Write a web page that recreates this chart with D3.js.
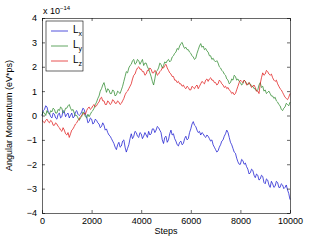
<!DOCTYPE html>
<html>
<head>
<meta charset="utf-8">
<script src="https://d3js.org/d3.v7.min.js"></script>
<style>
  body { margin: 0; background: #fff; }
  svg { display: block; font-family: "Liberation Sans", Arial, sans-serif; }
  .axis text { font-size: 9px; fill: #000; }
  .axis path, .axis line { stroke: #000; stroke-width: 0.6; }
</style>
</head>
<body>
<script>
// steps 0..10000, every 50
var steps = d3.range(0, 10001, 50);

// values in units of 1e-14 eV*ps, one row per 1000 steps
var lx = [
  0.0, 0.2, 0.25, 0.4, 0.35, 0.15, 0.1, -0.05, -0.1, 0.1, 0.05, -0.1, -0.15, 0.05, 0.1, -0.1, -0.05, 0.2, 0.15, -0.05,
  0.05, 0.1, -0.1, 0.0, 0.1, -0.1, -0.05, 0.15, 0.2, 0.05, 0.0, 0.05, 0.15, 0.3, 0.25, 0.05, -0.05, -0.3, -0.25, -0.1,
  -0.15, -0.35, -0.3, -0.15, -0.2, -0.3, -0.35, -0.5, -0.45, -0.3, -0.4, -0.6, -0.55, -0.7, -0.8, -0.85, -0.95, -1.05, -1.15, -1.3,
  -1.4, -1.2, -1.1, -1.3, -1.25, -1.05, -1.0, -1.3, -1.5, -1.35, -1.2, -0.95, -0.75, -0.95, -0.85, -0.65, -0.7, -0.85, -0.9, -0.7,
  -0.75, -0.95, -0.85, -0.7, -0.8, -0.9, -0.65, -0.8, -0.75, -0.55, -0.55, -0.7, -0.6, -0.45, -0.5, -0.6, -0.7, -1.0, -1.15, -0.9,
  -0.85, -1.1, -1.0, -0.75, -0.6, -0.8, -0.75, -0.95, -1.05, -1.2, -1.25, -1.1, -1.05, -1.2, -1.15, -0.95, -0.85, -1.0, -0.95, -0.7,
  -0.55, -0.35, -0.25, -0.4, -0.45, -0.6, -0.7, -0.65, -0.8, -0.7, -0.75, -0.85, -0.9, -0.8, -0.85, -0.95, -1.05, -1.0, -1.2, -1.3,
  -1.4, -1.5, -1.45, -1.3, -1.2, -1.05, -1.0, -0.85, -0.75, -0.6, -0.7, -0.9, -1.1, -1.2, -1.35, -1.5, -1.55, -1.75, -1.9, -2.0,
  -2.0, -1.8, -1.85, -2.0, -1.95, -2.1, -2.2, -2.4, -2.35, -2.2, -2.25, -2.45, -2.55, -2.4, -2.45, -2.65, -2.6, -2.45, -2.5, -2.75,
  -2.8, -2.6, -2.65, -2.85, -2.95, -2.7, -2.8, -2.95, -2.9, -2.7, -2.75, -2.95, -2.95, -2.8, -2.85, -3.0, -2.95, -2.85, -3.05, -3.2,
  -3.45];

var ly = [
  0.0, 0.15, 0.1, 0.0, 0.2, 0.1, 0.05, 0.2, 0.15, 0.3, 0.25, 0.1, 0.1, 0.25, 0.2, 0.35, 0.3, 0.1, 0.15, 0.3,
  0.3, 0.4, 0.45, 0.3, 0.2, 0.25, 0.1, 0.0, 0.0, -0.1, -0.2, -0.1, -0.05, 0.15, 0.1, -0.05, -0.1, 0.05, -0.05, 0.05,
  0.15, 0.2, 0.3, 0.45, 0.55, 0.7, 0.8, 1.0, 1.1, 1.25, 1.35, 1.15, 0.95, 1.1, 1.05, 0.9, 0.9, 1.05, 1.0, 0.8,
  0.85, 1.0, 0.95, 0.9, 1.05, 1.2, 1.4, 1.6, 1.8, 1.75, 1.95, 2.05, 2.1, 2.25, 2.3, 2.1, 2.15, 2.3, 2.25, 2.1,
  2.2, 2.3, 2.05, 2.15, 2.15, 2.0, 1.9, 1.75, 1.6, 1.4, 1.25, 1.5, 1.8, 1.85, 1.95, 2.15, 2.1, 1.95, 2.05, 2.2,
  2.15, 2.25, 2.3, 2.2, 2.25, 2.4, 2.45, 2.55, 2.6, 2.75, 2.7, 2.85, 2.95, 3.0, 2.85, 2.75, 2.8, 2.7, 2.7, 2.6,
  2.55, 2.45, 2.4, 2.3, 2.35, 2.55, 2.7, 2.85, 2.95, 2.8, 2.85, 2.7, 2.75, 2.65, 2.6, 2.45, 2.45, 2.3, 2.35, 2.25,
  2.2, 2.25, 2.15, 2.0, 1.95, 1.85, 1.8, 1.7, 1.65, 1.5, 1.45, 1.3, 1.35, 1.5, 1.45, 1.65, 1.6, 1.45, 1.5, 1.4,
  1.35, 1.25, 1.3, 1.45, 1.4, 1.3, 1.25, 1.35, 1.3, 1.2, 1.2, 1.1, 1.1, 1.0, 1.05, 1.25, 1.35, 1.15, 1.2, 1.0,
  1.05, 0.9, 0.95, 1.0, 0.9, 0.8, 0.8, 0.7, 0.75, 0.6, 0.55, 0.45, 0.4, 0.25, 0.2, 0.3, 0.35, 0.5, 0.45, 0.4,
  0.55];

var lz = [
  -0.2, -0.25, -0.3, -0.2, -0.15, -0.25, -0.3, -0.2, -0.25, -0.4, -0.4, -0.3, -0.35, -0.45, -0.5, -0.6, -0.65, -0.5, -0.6, -0.75,
  -0.8, -0.7, -0.9, -0.75, -0.6, -0.55, -0.45, -0.35, -0.3, -0.2, -0.15, -0.05, 0.0, 0.05, 0.1, 0.05, 0.2, 0.3, 0.35, 0.25,
  0.3, 0.4, 0.45, 0.35, 0.4, 0.5, 0.55, 0.7, 0.75, 0.6, 0.6, 0.45, 0.45, 0.6, 0.55, 0.45, 0.5, 0.65, 0.6, 0.5,
  0.5, 0.6, 0.55, 0.45, 0.5, 0.6, 0.7, 0.85, 0.95, 1.0, 1.1, 1.2, 1.3, 1.5, 1.65, 1.7, 1.85, 1.95, 2.0, 1.9,
  1.9, 1.8, 1.8, 1.65, 1.7, 1.85, 1.85, 1.95, 1.9, 1.75, 1.75, 1.85, 1.8, 1.65, 1.7, 1.8, 1.85, 1.95, 1.95, 2.05,
  2.1, 1.95, 1.85, 1.75, 1.7, 1.6, 1.6, 1.45, 1.45, 1.35, 1.4, 1.3, 1.3, 1.2, 1.25, 1.15, 1.1, 1.2, 1.15, 1.05,
  1.05, 1.2, 1.15, 1.1, 1.2, 1.25, 1.1, 1.2, 1.3, 1.4, 1.35, 1.3, 1.45, 1.5, 1.4, 1.5, 1.55, 1.45, 1.45, 1.35,
  1.35, 1.25, 1.3, 1.45, 1.4, 1.3, 1.25, 1.15, 1.2, 1.1, 1.15, 1.05, 1.0, 0.9, 0.95, 0.85, 0.9, 1.05, 1.2, 1.35,
  1.45, 1.4, 1.35, 1.45, 1.4, 1.25, 1.3, 1.35, 1.25, 1.15, 1.2, 1.25, 1.15, 1.0, 1.0, 0.9, 1.3, 1.55, 1.75, 1.65,
  1.7, 1.85, 1.8, 1.7, 1.65, 1.7, 1.55, 1.45, 1.4, 1.45, 1.3, 1.2, 1.1, 1.05, 0.95, 0.85, 0.75, 0.7, 0.65, 0.75,
  0.9];

var xTicks = [0, 2000, 4000, 6000, 8000, 10000];
var yTicks = [-4, -3, -2, -1, 0, 1, 2, 3, 4];

var series = [
  {name: "x", values: lx, color: "#1a1ad0"},
  {name: "y", values: ly, color: "#2e8a2e"},
  {name: "z", values: lz, color: "#e01a1a"}
];

var W = 320, H = 240;
var margin = {top: 18, right: 30, bottom: 27, left: 42};
var width = W - margin.left - margin.right;
var height = H - margin.top - margin.bottom;

var svg = d3.select("body").append("svg")
  .attr("width", W).attr("height", H);

var g = svg.append("g")
  .attr("transform", `translate(${margin.left},${margin.top})`);

var x = d3.scaleLinear().domain([0, 10000]).range([0, width]);
var y = d3.scaleLinear().domain([-4, 4]).range([height, 0]);

// lines
var line = d3.line()
  .x((d, i) => x(steps[i]))
  .y(d => y(d));

series.forEach(function(s) {
  g.append("path")
    .datum(s.values)
    .attr("fill", "none")
    .attr("stroke", s.color)
    .attr("stroke-width", 0.75)
    .attr("d", line);
});

// axes with inward ticks (matlab style box)
g.append("g").attr("class", "axis")
  .attr("transform", `translate(0,${height})`)
  .call(d3.axisBottom(x).tickValues(xTicks).tickSizeInner(-3).tickSizeOuter(0).tickPadding(5)
    .tickFormat(d3.format("d")));
g.append("g").attr("class", "axis")
  .call(d3.axisTop(x).tickValues(xTicks).tickSizeInner(-3).tickSizeOuter(0).tickFormat(""));
g.append("g").attr("class", "axis")
  .call(d3.axisLeft(y).tickValues(yTicks).tickSizeInner(-3).tickSizeOuter(0).tickPadding(5)
    .tickFormat(d => d < 0 ? "\u2212" + Math.abs(d) : d));
g.append("g").attr("class", "axis")
  .attr("transform", `translate(${width},0)`)
  .call(d3.axisRight(y).tickValues(yTicks).tickSizeInner(-3).tickSizeOuter(0).tickFormat(""));

// exponent label
var ex = svg.append("text")
  .attr("x", margin.left + 1).attr("y", 14)
  .style("font-size", "9px");
ex.append("tspan").text("x 10");
ex.append("tspan").attr("dy", -4).style("font-size", "6px").text("\u221214");

// axis titles
svg.append("text")
  .attr("x", margin.left + width / 2).attr("y", 234)
  .attr("text-anchor", "middle")
  .style("font-size", "9px")
  .text("Steps");

svg.append("text")
  .attr("transform", `translate(12,${margin.top + height / 2}) rotate(-90)`)
  .attr("text-anchor", "middle")
  .style("font-size", "9px")
  .text("Angular Momentum (eV*ps)");

// legend
var lg = g.append("g").attr("transform", "translate(4,3)");
lg.append("rect")
  .attr("width", 37).attr("height", 50)
  .attr("fill", "#fff").attr("stroke", "#000").attr("stroke-width", 0.6);

series.forEach(function(s, i) {
  var yy = 10 + i * 15;
  lg.append("line")
    .attr("x1", 5).attr("x2", 22)
    .attr("y1", yy).attr("y2", yy)
    .attr("stroke", s.color).attr("stroke-width", 0.75);
  var t = lg.append("text")
    .attr("x", 27).attr("y", yy + 2)
    .style("font-size", "10px");
  t.append("tspan").text("L");
  t.append("tspan").attr("dy", 3).style("font-size", "7px").text(s.name);
});
</script>
</body>
</html>
